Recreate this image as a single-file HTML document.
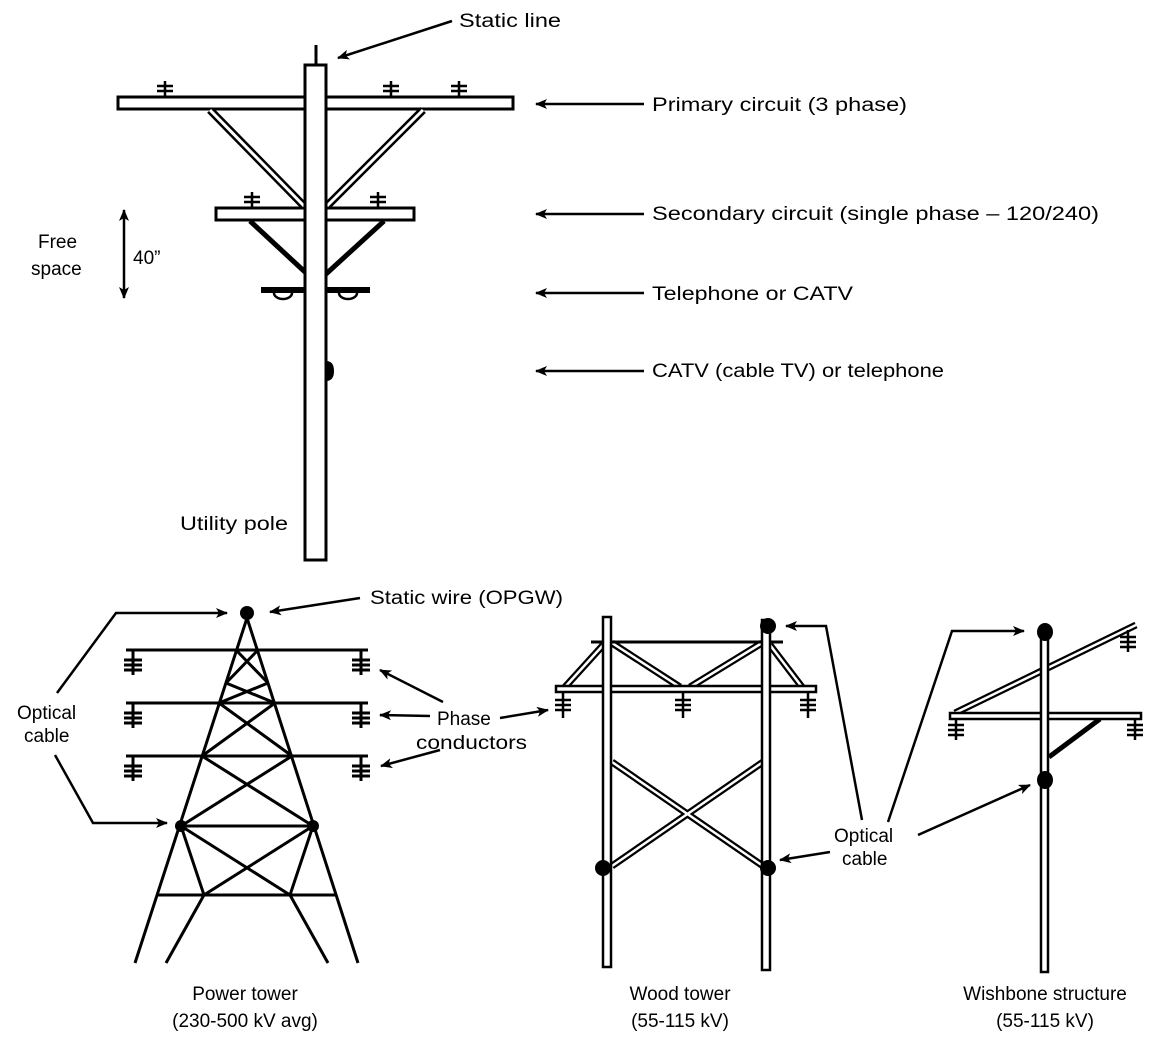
<!DOCTYPE html>
<html><head><meta charset="utf-8"><style>
html,body{margin:0;padding:0;background:#fff;}
svg{display:block;}
text{font-family:"Liberation Sans",sans-serif;font-size:19px;fill:#000;}
</style></head><body>
<svg width="1167" height="1057" viewBox="0 0 1167 1057">
<defs>
<marker id="ah" viewBox="0 0 12 10" refX="11" refY="5" markerWidth="12" markerHeight="10" markerUnits="userSpaceOnUse" orient="auto-start-reverse">
<path d="M0,0 L12,5 L0,10 L3,5 Z" fill="#000"/></marker>
</defs>

<!-- UTILITY POLE -->
<g stroke="#000" fill="none" stroke-width="3">
<line x1="316" y1="45" x2="316" y2="65"/>
<rect x="118" y="97" width="395" height="12" fill="#fff"/>
<rect x="216" y="208" width="198" height="12" fill="#fff"/>
<line x1="210" y1="110" x2="304" y2="206" stroke-width="8"/>
<line x1="210" y1="110" x2="304" y2="206" stroke="#fff" stroke-width="3"/>
<line x1="423" y1="110" x2="327" y2="206" stroke-width="8"/>
<line x1="423" y1="110" x2="327" y2="206" stroke="#fff" stroke-width="3"/>
<line x1="250" y1="221" x2="305" y2="272" stroke-width="5"/>
<line x1="384" y1="221" x2="326" y2="274" stroke-width="5"/>
<rect x="261" y="287" width="109" height="6" fill="#000" stroke="none"/>
<path d="M274,293 a9,6 0 0 0 18,0 M339,293 a9,6 0 0 0 18,0" stroke-width="2.5"/>
<rect x="305" y="65" width="21" height="495" fill="#fff"/>
<path d="M326,361 q8,0 8,10 q0,10 -8,10 Z" fill="#000" stroke="none"/>
<path d="M165,81 V97 M157,86 H173 M157,91 H173 M391,81 V97 M383,86 H399 M383,91 H399 M459,81 V97 M451,86 H467 M451,91 H467 M252,192 V208 M244,197 H260 M244,202 H260 M378,192 V208 M370,197 H386 M370,202 H386" stroke-width="2.5"/>
<line x1="124" y1="210" x2="124" y2="298" stroke-width="2.5" marker-start="url(#ah)" marker-end="url(#ah)"/>
</g>
<g stroke="#000" stroke-width="2.5">
<line x1="452" y1="21" x2="338" y2="58" marker-end="url(#ah)"/>
<line x1="644" y1="104" x2="536" y2="104" marker-end="url(#ah)"/>
<line x1="644" y1="214" x2="536" y2="214" marker-end="url(#ah)"/>
<line x1="644" y1="293" x2="536" y2="293" marker-end="url(#ah)"/>
<line x1="644" y1="371" x2="536" y2="371" marker-end="url(#ah)"/>
</g>
<text x="459" y="27" textLength="102" lengthAdjust="spacingAndGlyphs">Static line</text>
<text x="652" y="111" textLength="255" lengthAdjust="spacingAndGlyphs">Primary circuit (3 phase)</text>
<text x="652" y="220" textLength="447" lengthAdjust="spacingAndGlyphs">Secondary circuit (single phase – 120/240)</text>
<text x="652" y="300" textLength="201" lengthAdjust="spacingAndGlyphs">Telephone or CATV</text>
<text x="652" y="377" textLength="292" lengthAdjust="spacingAndGlyphs">CATV (cable TV) or telephone</text>
<text x="38" y="248">Free</text>
<text x="31" y="275">space</text>
<text x="133" y="264">40”</text>
<text x="180" y="530" textLength="108" lengthAdjust="spacingAndGlyphs">Utility pole</text>

<!-- POWER TOWER -->
<g stroke="#000" stroke-width="3" fill="none">
<path d="M247,618 L135,963 M247,618 L358,963"/>
<path d="M126,650 H368 M126,703 H368 M126,756 H368"/>
<path d="M236,650 L268,683 M258,650 L226,683 M226,683 L275,703 M268,683 L219,703"/>
<path d="M219,703 L292,756 M275,703 L202,756 M202,756 L313,826 M292,756 L181,826"/>
<path d="M181,826 H313 M181,826 L204,895 M313,826 L290,895 M181,826 L290,895 M313,826 L204,895 M157,895 H337 M204,895 L166,963 M290,895 L328,963"/>
<path d="M133,650 V675 M124,660 H142 M124,665 H142 M124,670 H142 M361,650 V675 M352,660 H370 M352,665 H370 M352,670 H370"/>
<path d="M133,703 V728 M124,713 H142 M124,718 H142 M124,723 H142 M361,703 V728 M352,713 H370 M352,718 H370 M352,723 H370"/>
<path d="M133,756 V781 M124,766 H142 M124,771 H142 M124,776 H142 M361,756 V781 M352,766 H370 M352,771 H370 M352,776 H370"/>
<circle cx="247" cy="613" r="7" fill="#000" stroke="none"/>
<circle cx="181" cy="826" r="6" fill="#000" stroke="none"/>
<circle cx="313" cy="826" r="6" fill="#000" stroke="none"/>
</g>
<g stroke="#000" stroke-width="2.5" fill="none">
<polyline points="57,693 116,613 227,613" marker-end="url(#ah)"/>
<polyline points="55,755 93,823 167,823" marker-end="url(#ah)"/>
<line x1="360" y1="598" x2="270" y2="612" marker-end="url(#ah)"/>
<line x1="443" y1="702" x2="380" y2="670" marker-end="url(#ah)"/>
<line x1="430" y1="716" x2="380" y2="715" marker-end="url(#ah)"/>
<line x1="440" y1="750" x2="381" y2="766" marker-end="url(#ah)"/>
<line x1="500" y1="718" x2="548" y2="710" marker-end="url(#ah)"/>
</g>
<text x="370" y="604" textLength="193" lengthAdjust="spacingAndGlyphs">Static wire (OPGW)</text>
<text x="17" y="719">Optical</text>
<text x="24" y="742">cable</text>
<text x="437" y="725">Phase</text>
<text x="416" y="749" textLength="111" lengthAdjust="spacingAndGlyphs">conductors</text>

<!-- WOOD TOWER -->
<g stroke="#000" fill="none">
<g stroke-width="7">
<line x1="565" y1="687" x2="605" y2="643"/><line x1="612" y1="643" x2="680" y2="687"/>
<line x1="690" y1="687" x2="762" y2="643"/><line x1="770" y1="645" x2="802" y2="687"/>
<line x1="612" y1="762" x2="763" y2="866"/><line x1="763" y1="762" x2="612" y2="866"/>
</g>
<g stroke="#fff" stroke-width="2.5">
<line x1="565" y1="687" x2="605" y2="643"/><line x1="612" y1="643" x2="680" y2="687"/>
<line x1="690" y1="687" x2="762" y2="643"/><line x1="770" y1="645" x2="802" y2="687"/>
<line x1="612" y1="762" x2="763" y2="866"/><line x1="763" y1="762" x2="612" y2="866"/>
</g>
<line x1="591" y1="642" x2="783" y2="642" stroke-width="3"/>
<rect x="556" y="686" width="260" height="6" fill="#fff" stroke-width="2.5"/>
<rect x="603" y="617" width="8" height="350" fill="#fff" stroke-width="2.5"/>
<rect x="762" y="620" width="8" height="350" fill="#fff" stroke-width="2.5"/>
<path d="M563,693 V718 M555,700 H571 M555,705 H571 M555,710 H571 M683,693 V718 M675,700 H691 M675,705 H691 M675,710 H691 M808,693 V718 M800,700 H816 M800,705 H816 M800,710 H816" stroke-width="2.5"/>
<circle cx="603" cy="868" r="8" fill="#000" stroke="none"/>
<circle cx="768" cy="868" r="8" fill="#000" stroke="none"/>
<circle cx="768" cy="626" r="8" fill="#000" stroke="none"/>
</g>

<!-- WISHBONE -->
<g stroke="#000" fill="none">
<line x1="955" y1="713" x2="1136" y2="625" stroke-width="7"/>
<line x1="955" y1="713" x2="1136" y2="625" stroke="#fff" stroke-width="2.5"/>
<line x1="1049" y1="757" x2="1100" y2="719" stroke-width="5"/>
<rect x="950" y="713" width="191" height="6" fill="#fff" stroke-width="2.5"/>
<rect x="1041" y="638" width="7" height="334" fill="#fff" stroke-width="2.5"/>
<path d="M1128,630 V652 M1120,637 H1136 M1120,642 H1136 M1120,647 H1136 M956,719 V740 M948,725 H964 M948,730 H964 M948,735 H964 M1135,719 V740 M1127,725 H1143 M1127,730 H1143 M1127,735 H1143" stroke-width="2.5"/>
<ellipse cx="1045" cy="632" rx="8" ry="9" fill="#000" stroke="none"/>
<ellipse cx="1045" cy="780" rx="8" ry="9" fill="#000" stroke="none"/>
</g>
<g stroke="#000" stroke-width="2.5" fill="none">
<polyline points="862,820 826,626 786,626" marker-end="url(#ah)"/>
<line x1="830" y1="852" x2="780" y2="860" marker-end="url(#ah)"/>
<polyline points="888,822 952,631 1024,631" marker-end="url(#ah)"/>
<line x1="918" y1="835" x2="1030" y2="785" marker-end="url(#ah)"/>
</g>
<text x="834" y="842">Optical</text>
<text x="842" y="865">cable</text>

<text x="245" y="1000" text-anchor="middle">Power tower</text>
<text x="245" y="1027" text-anchor="middle">(230-500 kV avg)</text>
<text x="680" y="1000" text-anchor="middle">Wood tower</text>
<text x="680" y="1027" text-anchor="middle">(55-115 kV)</text>
<text x="1045" y="1000" text-anchor="middle">Wishbone structure</text>
<text x="1045" y="1027" text-anchor="middle">(55-115 kV)</text>
</svg>
</body></html>
